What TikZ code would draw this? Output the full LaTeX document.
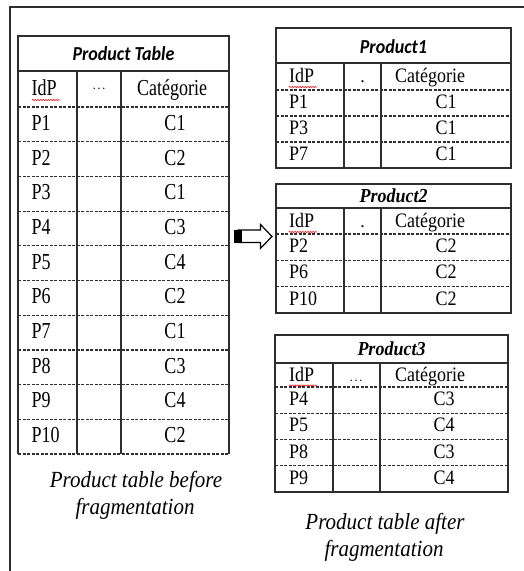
\documentclass[tikz,border=0pt]{standalone}
\usepackage{graphicx}
\usepackage{fontspec}
\setmainfont{Liberation Serif}
\newfontfamily\calib{Carlito}
\usetikzlibrary{decorations.pathmorphing}
\definecolor{ln}{HTML}{2E2E2E}
\newcommand\tallL[1]{\scalebox{1}[1.27]{#1}}
\newcommand\tallS[1]{\scalebox{1}[1.14]{#1}}
\newcommand\tallT[1]{\scalebox{1}[1.1]{#1}}
\tikzset{
  tline/.style={draw=ln, line width=1.4pt},
  dline/.style={draw=ln, line width=1.2pt, dash pattern=on 3pt off 1.5pt},
  frame/.style={draw=ln, line width=2.4pt},
  cell/.style={inner sep=0pt, font=\fontsize{18}{20}\selectfont, text=black},
  ttlsans/.style={inner sep=0pt, font=\fontsize{18}{20}\calib\bfseries\itshape},
  ttlserif/.style={inner sep=0pt, font=\fontsize{18}{20}\selectfont\bfseries\itshape},
  capt/.style={inner sep=0pt, font=\fontsize{21}{27}\selectfont\itshape},
  dotsy/.style={inner sep=0pt, font=\fontsize{14}{14}\selectfont, text=ln},
  spell/.style={draw=red, line width=0.5pt, decorate, decoration={snake, amplitude=0.7pt, segment length=2.6pt}},
}
\begin{document}
\begin{tikzpicture}[x=1pt,y=-1pt]
\useasboundingbox (0,0) rectangle (524,571);
% frame
\draw[frame] (10,571) -- (10,7) -- (524,7);

% ---------- left table ----------
\draw[tline] (18,454) -- (18,36) -- (229,36) -- (229,454);
\draw[tline] (18,71) -- (229,71);
\draw[tline] (77,71) -- (77,454);
\draw[tline] (121,71) -- (121,454);
\node[ttlsans, anchor=base] (LT) at (123.5,60) {\tallT{Product Table}};
\node[cell, anchor=base west] (LidP) at (31.5,95.5) {\tallL{IdP}};
\draw[spell] (32,100) -- (60,100);
\node[dotsy] (Ldots) at (99,89) {…};
\node[cell, anchor=base] (Lcat) at (172,95.5) {\tallL{Catégorie}};
\foreach \p/\c [count=\i] in {P1/C1,P2/C2,P3/C1,P4/C3,P5/C4,P6/C2,P7/C1,P8/C3,P9/C4,P10/C2}{
  \pgfmathsetmacro\yt{107+34.7*(\i-1)}
  \pgfmathsetmacro\yb{107+34.7*(\i-0.5)+6}
  \draw[dline] (18,\yt) -- (229,\yt);
  \node[cell, anchor=base west] (L-p\i) at (31.5,\yb) {\tallL{\p}};
  \node[cell, anchor=base] (L-c\i) at (175,\yb) {\tallL{\c}};
}
\draw[dline] (18,454) -- (229,454);
\node[capt, anchor=base] (capL1) at (136,487) {\tallT{Product table before}};
\node[capt, anchor=base] (capL2) at (135,514) {\tallT{fragmentation}};

% ---------- arrow ----------
\draw[line width=1.2pt, draw=black, fill=white]
  (238,230) -- (260.5,230) -- (260.5,224.5) -- (272,236.5) -- (260.5,248.3) -- (260.5,242.5) -- (238,242.5) -- cycle;
\fill[black] (233.5,229.5) rectangle (241.5,243);

% ---------- Product1 ----------
\draw[tline] (276,28) rectangle (511,168);
\draw[tline] (276,63) -- (511,63);
\draw[tline] (344,63) -- (344,168);
\draw[tline] (381,63) -- (381,168);
\node[ttlsans, anchor=base] (T1) at (393.5,53) {\tallT{Product1}};
\node[cell, anchor=base west] (A-id) at (289,82) {\tallS{IdP}};
\draw[spell] (289,87) -- (317,87);
\node[cell, anchor=base] (A-dot) at (362.5,82) {.};
\node[cell, anchor=base west] (A-cat) at (395,82) {\tallS{Catégorie}};
\foreach \p/\c [count=\i] in {P1/C1,P3/C1,P7/C1}{
  \pgfmathsetmacro\yt{90+26*(\i-1)}
  \pgfmathsetmacro\yb{90+26*(\i-0.5)+5.5}
  \draw[dline] (276,\yt) -- (511,\yt);
  \node[cell, anchor=base west] (A-p\i) at (289,\yb) {\tallS{\p}};
  \node[cell, anchor=base] (A-c\i) at (446,\yb) {\tallS{\c}};
}

% ---------- Product2 ----------
\draw[tline] (276,184) rectangle (511,313);
\draw[tline] (276,208) -- (511,208);
\draw[tline] (344,208) -- (344,313);
\draw[tline] (381,208) -- (381,313);
\node[ttlserif, anchor=base] (T2) at (393.5,202) {\tallT{Product2}};
\node[cell, anchor=base west] (B-id) at (289,227) {\tallS{IdP}};
\draw[spell] (289,232) -- (317,232);
\node[cell, anchor=base] (B-dot) at (362.5,227) {.};
\node[cell, anchor=base west] (B-cat) at (395,227) {\tallS{Catégorie}};
\foreach \p/\c [count=\i] in {P2/C2,P6/C2,P10/C2}{
  \pgfmathsetmacro\yt{234+26.3*(\i-1)}
  \pgfmathsetmacro\yb{234+26.3*(\i-0.5)+5.5}
  \draw[dline] (276,\yt) -- (511,\yt);
  \node[cell, anchor=base west] (B-p\i) at (289,\yb) {\tallS{\p}};
  \node[cell, anchor=base] (B-c\i) at (446,\yb) {\tallS{\c}};
}

% ---------- Product3 ----------
\draw[tline] (275,335) rectangle (508,492);
\draw[tline] (275,363) -- (508,363);
\draw[tline] (333,363) -- (333,492);
\draw[tline] (380,363) -- (380,492);
\node[ttlserif, anchor=base] (T3) at (391.5,355) {\tallT{Product3}};
\node[cell, anchor=base west] (C-id) at (289,381) {\tallS{IdP}};
\draw[spell] (289,385.5) -- (317,385.5);
\node[dotsy, anchor=base] (C-dot) at (356,381) {…};
\node[cell, anchor=base west] (C-cat) at (395,381) {\tallS{Catégorie}};
\foreach \p/\c [count=\i] in {P4/C3,P5/C4,P8/C3,P9/C4}{
  \pgfmathsetmacro\yt{387+26.25*(\i-1)}
  \pgfmathsetmacro\yb{387+26.25*(\i-0.5)+5.5}
  \draw[dline] (275,\yt) -- (508,\yt);
  \node[cell, anchor=base west] (C-p\i) at (289,\yb) {\tallS{\p}};
  \node[cell, anchor=base] (C-c\i) at (444,\yb) {\tallS{\c}};
}
\node[capt, anchor=base] (capR1) at (385,529) {\tallT{Product table after}};
\node[capt, anchor=base] (capR2) at (384,556) {\tallT{fragmentation}};
\end{tikzpicture}
\end{document}
